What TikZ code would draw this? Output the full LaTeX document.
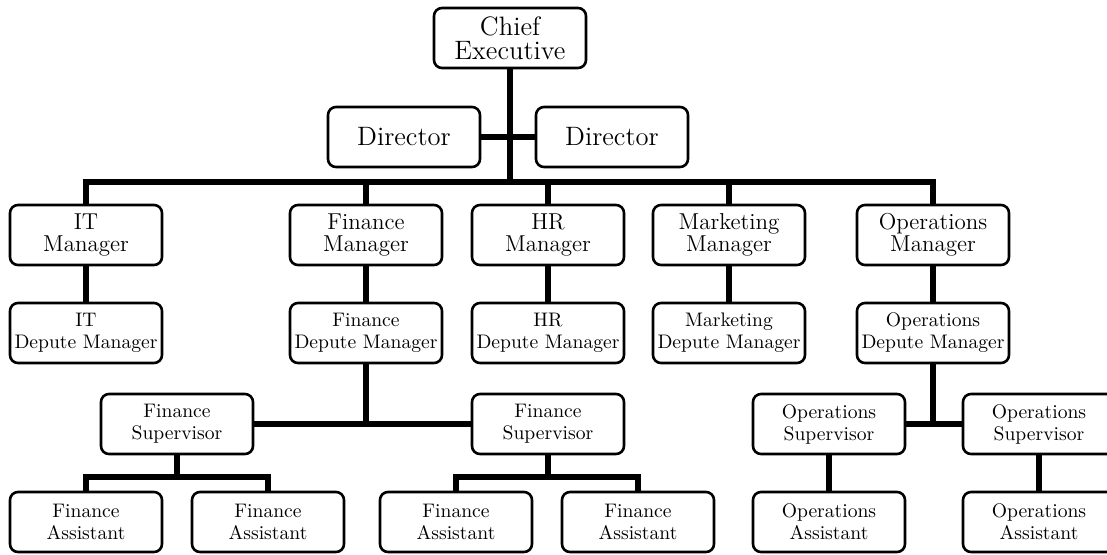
\documentclass[tikz,border=0pt]{standalone}
\begin{document}
\begin{tikzpicture}[x=0.5pt, y=-0.5pt,
  box/.style={draw, rounded corners=4pt, line width=1.3pt, minimum width=76pt,
    minimum height=30pt, inner sep=1pt, align=center, fill=white},
  big/.style={box, font=\fontsize{13.3}{12}\selectfont},
  mid/.style={box, font=\fontsize{11.5}{11}\selectfont},
  small/.style={box, font=\fontsize{9.8}{11}\selectfont},
  conn/.style={line width=2.6pt}]

\clip (0,0) rectangle (1107,554);

% TOP LEVEL
\node[big] (ceo) at (510,38) {Chief\\Executive};
\node[big] (dirL) at (404,137) {Director};
\node[big] (dirR) at (612,137) {Director};

% MANAGERS
\node[mid] (it)  at (86,235)  {IT\\Manager};
\node[mid] (fin) at (366,235) {Finance\\Manager};
\node[mid] (hr)  at (548,235) {HR\\Manager};
\node[mid] (mkt) at (729,235) {Marketing\\Manager};
\node[mid] (ops) at (933,235) {Operations\\Manager};

% DEPUTE MANAGERS
\node[small] (itdep)  at (86,333)  {IT\\Depute Manager};
\node[small] (findep) at (366,333) {Finance\\Depute Manager};
\node[small] (hrdep)  at (548,333) {HR\\Depute Manager};
\node[small] (mktdep) at (729,333) {Marketing\\Depute Manager};
\node[small] (opsdep) at (933,333) {Operations\\Depute Manager};

% SUPERVISORS
\node[small] (finsupL) at (177,424) {Finance\\Supervisor};
\node[small] (finsupR) at (548,424) {Finance\\Supervisor};
\node[small] (opssupL) at (829,424) {Operations\\Supervisor};
\node[small] (opssupR) at (1039,424) {Operations\\Supervisor};

% ASSISTANTS
\node[small] (fa1) at (86,522)  {Finance\\Assistant};
\node[small] (fa2) at (268,522) {Finance\\Assistant};
\node[small] (fa3) at (456,522) {Finance\\Assistant};
\node[small] (fa4) at (638,522) {Finance\\Assistant};
\node[small] (oa1) at (829,522) {Operations\\Assistant};
\node[small] (oa2) at (1039,522) {Operations\\Assistant};

% Connectors
\coordinate (bus) at (510,182);
\coordinate (fjoinL) at (177,477);
\coordinate (fjoinR) at (548,477);

\draw[conn] (ceo) -- (bus);
\draw[conn] (dirL) -- (dirR);
\draw[conn] (it.north) |- (bus) -| (ops.north);
\draw[conn] (fin) -- (fin |- bus);
\draw[conn] (hr) -- (hr |- bus);
\draw[conn] (mkt) -- (mkt |- bus);

\draw[conn] (it) -- (itdep);
\draw[conn] (fin) -- (findep);
\draw[conn] (hr) -- (hrdep);
\draw[conn] (mkt) -- (mktdep);
\draw[conn] (ops) -- (opsdep);

% Finance branch
\draw[conn] (findep) -- (findep |- finsupL);
\draw[conn] (finsupL) -- (finsupR);
\draw[conn] (finsupL) -- (fjoinL);
\draw[conn] (fa1.north) |- (fjoinL) -| (fa2.north);
\draw[conn] (finsupR) -- (fjoinR);
\draw[conn] (fa3.north) |- (fjoinR) -| (fa4.north);

% Operations branch
\draw[conn] (opsdep) -- (opsdep |- opssupL);
\draw[conn] (opssupL) -- (opssupR);
\draw[conn] (opssupL) -- (oa1);
\draw[conn] (opssupR) -- (oa2);

\end{tikzpicture}
\end{document}
